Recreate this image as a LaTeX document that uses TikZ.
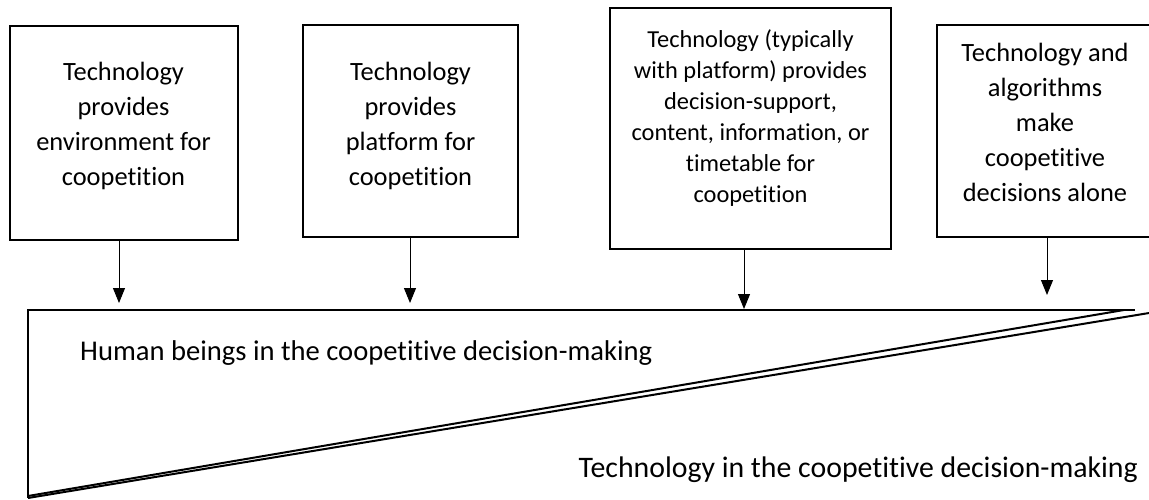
\documentclass[tikz,border=0pt]{standalone}
\usepackage{fontspec}
\setmainfont{Carlito}[Ligatures={NoCommon}]
\usetikzlibrary{arrows.meta}
\begin{document}
\begin{tikzpicture}[x=1pt,y=-1pt,
  box/.style={draw=black, line width=2pt, inner sep=0pt},
  boxtext/.style={align=center, inner sep=0pt, anchor=north},
  fsA/.style={font=\fontsize{26.4}{35}\selectfont},
  fsB/.style={font=\fontsize{24.4}{31}\selectfont},
  lbltext/.style={inner sep=0pt, font=\fontsize{28.6}{34}\selectfont},
  lbltextb/.style={inner sep=0pt, font=\fontsize{29.8}{36}\selectfont},
  arr/.style={-{Triangle[length=15pt,width=12pt]}, line width=1pt},
  tri/.style={line width=2pt, line join=miter}
]
\useasboundingbox (0,0) rectangle (1149,500);
\clip (0,0) rectangle (1149,500);

% boxes
\node[box, minimum width=228pt, minimum height=214pt] (b1) at (124,133) {};
\node[box, minimum width=215pt, minimum height=212pt] (b2) at (410.5,131) {};
\node[box, minimum width=281pt, minimum height=241pt] (b3) at (750.5,128.5) {};
\node[box, minimum width=216pt, minimum height=212pt] (b4) at (1045,131) {};

% box texts
\node[boxtext, fsA] (t1) at (123.5,55.5) {\strut Technology\\provides\\environment for\\coopetition};
\node[boxtext, fsA] (t2) at (410.5,55.5) {\strut Technology\\provides\\platform for\\coopetition};
\node[boxtext, fsB] (t3) at (750.5,25.3) {\strut Technology (typically\\with platform) provides\\decision-support,\\content, information, or\\timetable for\\coopetition};
\node[boxtext, fsA] (t4) at (1045,36.5) {\strut Technology and\\algorithms\\make\\coopetitive\\decisions alone};

% arrow tips
\coordinate (e1) at (119,303);
\coordinate (e2) at (410,303);
\coordinate (e3) at (744,309);
\coordinate (e4) at (1047,295);
\draw[arr] (b1.south -| e1) -- (e1);
\draw[arr] (b2.south -| e2) -- (e2);
\draw[arr] (b3.south -| e3) -- (e3);
\draw[arr] (b4.south -| e4) -- (e4);

% triangles
\coordinate (TL) at (28,310);
\coordinate (TR) at (1135,310);
\coordinate (BL) at (28,498);
\coordinate (UL) at (28,496);
\coordinate (UR) at (1124,310);
\coordinate (LR) at (1160,311.2);
\draw[tri] (TR) -- (TL) -- (BL);
\draw[tri] (UL) -- (UR);
\draw[tri] (BL) -- (LR);

% labels
\node[lbltext, anchor=base west] (hum) at (80,360) {Human beings in the coopetitive decision-making};
\node[lbltextb, anchor=base east] (tech) at (1138,477) {Technology in the coopetitive decision-making};
\end{tikzpicture}
\end{document}
